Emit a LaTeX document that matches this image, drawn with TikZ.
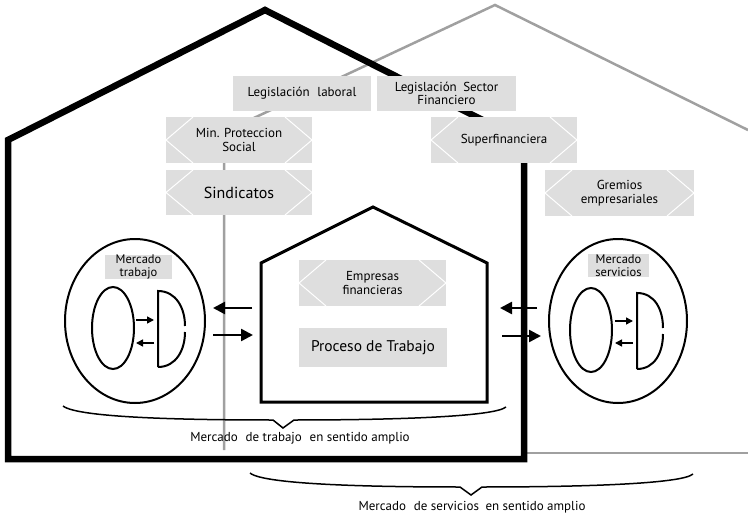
\documentclass[tikz,border=0pt]{standalone}
\usepackage{fontspec}
\setmainfont{PT Sans}
\usetikzlibrary{arrows.meta}
\definecolor{boxgray}{RGB}{222,222,222}
\definecolor{wallgray}{RGB}{160,160,160}
\begin{document}
\begin{tikzpicture}[x=1pt,y=-1pt,
  lbl/.style={fill=boxgray, inner sep=0pt, align=center, text=black,
    font=\fontsize{13}{13.5}\selectfont},
  hexbox/.style={lbl, path picture={
    \draw[white, line width=1pt]
      ([xshift=27pt]path picture bounding box.north west) -- (path picture bounding box.west)
      -- ([xshift=27pt]path picture bounding box.south west)
      ([xshift=-27pt]path picture bounding box.north east) -- (path picture bounding box.east)
      -- ([xshift=-27pt]path picture bounding box.south east);}},
  blackwall/.style={line width=6.5pt, line join=miter},
  graywall/.style={line width=2.5pt, draw=wallgray},
  innerwall/.style={line width=3pt},
  ring/.style={line width=2pt},
  bigarrow/.style={line width=2.5pt, -{Triangle[length=12pt,width=12pt]}},
  smallarrow/.style={line width=1.5pt, -{Triangle[length=7pt,width=7pt]}},
  brace/.style={line width=1.5pt, line join=miter},
  caption/.style={font=\fontsize{13}{14}\selectfont, inner sep=0pt}
]
\useasboundingbox (0,0) rectangle (748,519);

% grey house (services)
\draw[graywall] (224,450) -- (224,132) -- (495,5) -- (748,130);
\draw[graywall] (527,453) -- (748,453);

% black house (labour)
\draw[blackwall] (8,459) -- (8,140) -- (265,10) -- (524,141) -- (524,459) -- cycle;

% inner house (firm)
\draw[innerwall] (261,402) -- (261,263) -- (373,207) -- (487,263) -- (487,402) -- cycle;

% label boxes
\node[lbl, minimum width=138pt, minimum height=35pt] (leglab) at (302,93.5) {Legislación\hspace{0.6em}laboral};
\node[lbl, minimum width=139pt, minimum height=35pt] (legfin) at (446.5,93.5) {Legislación\hspace{0.5em}Sector\\Financiero};
\node[hexbox, minimum width=146pt, minimum height=46pt] (minpro) at (239,140) {Min. Proteccion\\Social};
\node[hexbox, minimum width=146pt, minimum height=45pt, font=\fontsize{16}{18}\selectfont] (sind) at (239,192.5) {Sindicatos};
\node[hexbox, minimum width=146pt, minimum height=46pt] (superf) at (504,140) {Superfinanciera};
\node[hexbox, minimum width=149pt, minimum height=46pt] (gremios) at (619.5,193) {Gremios\\empresariales};
\node[hexbox, minimum width=147pt, minimum height=46pt] (empfin) at (372.5,283) {Empresas\\financieras};
\node[lbl, minimum width=148pt, minimum height=39pt, font=\fontsize{15.5}{17}\selectfont] (proceso) at (373,347.5) {Proceso de Trabajo};

% left market
\draw[ring] (135,321) ellipse [x radius=70pt, y radius=82pt];
\node[lbl, minimum width=67pt, minimum height=24pt, font=\fontsize{12.5}{12.5}\selectfont] (mtrab) at (138.5,267) {Mercado\\trabajo};
\draw[ring] (113,328) ellipse [x radius=21pt, y radius=41pt];
\draw[ring] (158,367) -- (158,291) .. controls (176,291) and (185,308) .. (185,326);
\draw[ring] (185,332) .. controls (185,350) and (176,367) .. (158,367);
\coordinate (l1a) at (136,320); \coordinate (l1b) at (154,320);
\coordinate (l2a) at (154,343); \coordinate (l2b) at (136,343);
\draw[smallarrow] (l1a) -- (l1b);
\draw[smallarrow] (l2a) -- (l2b);

% right market
\draw[ring] (618,321) ellipse [x radius=69pt, y radius=82pt];
\node[lbl, minimum width=61pt, minimum height=23pt, font=\fontsize{12.5}{12.5}\selectfont] (mserv) at (618.5,265.5) {Mercado\\servicios};
\draw[ring] (591,330) ellipse [x radius=21pt, y radius=42pt];
\draw[ring] (637,369) -- (637,293) .. controls (655,293) and (663,310) .. (663,328);
\draw[ring] (663,334) .. controls (663,352) and (655,369) .. (637,369);
\coordinate (r1a) at (615,321); \coordinate (r1b) at (633,321);
\coordinate (r2a) at (633,343); \coordinate (r2b) at (615,343);
\draw[smallarrow] (r1a) -- (r1b);
\draw[smallarrow] (r2a) -- (r2b);

% exchange arrows
\coordinate (la1) at (252,308); \coordinate (la2) at (213,308);
\coordinate (lb1) at (213,335); \coordinate (lb2) at (253,335);
\coordinate (ra1) at (537,308); \coordinate (ra2) at (500,308);
\coordinate (rb1) at (502,336); \coordinate (rb2) at (541,336);
\draw[bigarrow] (la1) -- (la2);
\draw[bigarrow] (lb1) -- (lb2);
\draw[bigarrow] (ra1) -- (ra2);
\draw[bigarrow] (rb1) -- (rb2);

% braces
\draw[brace] (63,406) .. controls (78,418) and (190,420) .. (273,420) -- (283,428) -- (294,420)
  .. controls (390,420) and (494,417) .. (506,407);
\node[caption] (captrab) at (300,438) {Mercado\hspace{0.6em}de trabajo\hspace{0.6em}en sentido amplio};
\draw[brace] (250,473) .. controls (264,485) and (380,487) .. (460,487) -- (471,495) -- (482,487)
  .. controls (580,487) and (682,484) .. (693,474);
\node[caption] (capserv) at (472,507) {Mercado\hspace{0.6em}de servicios\hspace{0.5em}en sentido amplio};
\end{tikzpicture}
\end{document}
